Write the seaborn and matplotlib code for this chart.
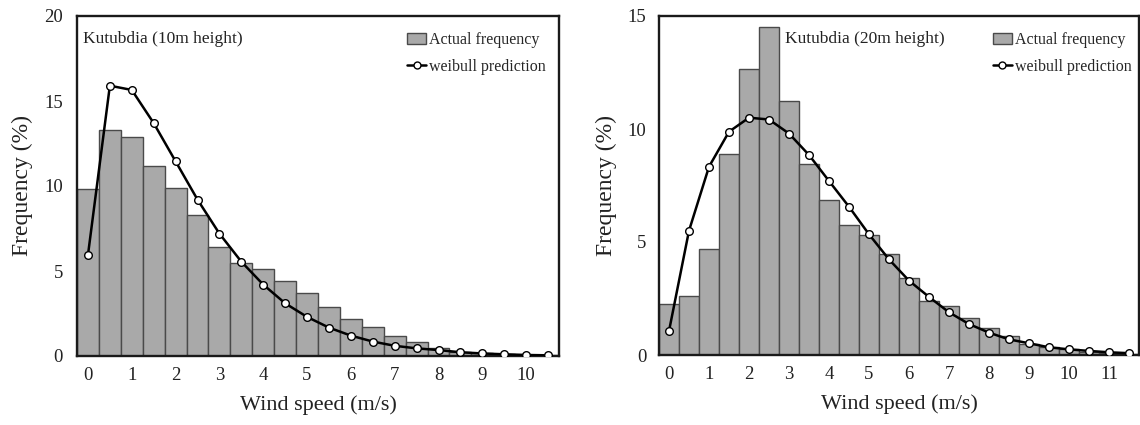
import numpy as np
import pandas as pd
import matplotlib
matplotlib.use("Agg")
import matplotlib.pyplot as plt
import seaborn as sns
from matplotlib.patches import Patch
from matplotlib.lines import Line2D

sns.set_theme(style="white")
plt.rcParams['font.family'] = ['Liberation Serif', 'DejaVu Serif']

# ---- data ----
speed_10m = [0, 0.5, 1, 1.5, 2, 2.5, 3, 3.5, 4, 4.5, 5, 5.5, 6, 6.5, 7, 7.5, 8, 8.5, 9, 9.5, 10, 10.5]
actual_10m = [9.8, 13.3, 12.9, 11.2, 9.9, 8.3, 6.4, 5.5, 5.1, 4.4, 3.7, 2.9, 2.2, 1.7, 1.2, 0.85,
              0.45, 0.25, 0.15, 0.1, 0.05, 0.03]
weibull_10m = [5.94, 15.9, 15.65, 13.7, 11.45, 9.2, 7.2, 5.55, 4.2, 3.1, 2.3, 1.67, 1.2, 0.85, 0.6,
               0.45, 0.35, 0.22, 0.15, 0.1, 0.06, 0.04]

speed_20m = [0, 0.5, 1, 1.5, 2, 2.5, 3, 3.5, 4, 4.5, 5, 5.5, 6, 6.5, 7, 7.5, 8, 8.5, 9, 9.5, 10, 10.5, 11, 11.5]
actual_20m = [2.25, 2.6, 4.7, 8.9, 12.65, 14.5, 11.25, 8.45, 6.85, 5.75, 5.3, 4.45, 3.42, 2.4, 2.15,
              1.62, 1.2, 0.85, 0.5, 0.35, 0.25, 0.15, 0.1, 0.05]
weibull_20m = [1.06, 5.5, 8.33, 9.88, 10.5, 10.42, 9.8, 8.85, 7.7, 6.56, 5.34, 4.23, 3.29, 2.57, 1.89,
               1.37, 0.99, 0.69, 0.52, 0.34, 0.25, 0.18, 0.12, 0.08]

panels = [
    dict(speed=speed_10m, actual=actual_10m, weibull=weibull_10m, title="Kutubdia (10m height)",
         ylim=20, yticks=[0, 5, 10, 15, 20], xmax=10.75, xticks=list(range(0, 11)),
         rect=[77 / 1140, 69 / 425, 482 / 1140, 340 / 425], title_x=0.013, ypad=10, leg_x=1.0),
    dict(speed=speed_20m, actual=actual_20m, weibull=weibull_20m, title="Kutubdia (20m height)",
         ylim=15, yticks=[0, 5, 10, 15], xmax=11.75, xticks=list(range(0, 12)),
         rect=[659 / 1140, 70 / 425, 480 / 1140, 339 / 425], title_x=0.262, ypad=9, leg_x=1.012),
]

fig = plt.figure(figsize=(11.4, 4.25), dpi=100)

bar_color = "#a9a9a9"
edge_color = "#4a4a4a"

for p in panels:
    ax = fig.add_axes(p["rect"])
    df = pd.DataFrame({"speed": p["speed"], "actual": p["actual"], "weibull": p["weibull"]})
    sns.barplot(data=df, x="speed", y="actual", native_scale=True, width=1.0,
                color=bar_color, edgecolor=edge_color, linewidth=1.0, saturation=1, ax=ax, zorder=1)
    sns.lineplot(data=df, x="speed", y="weibull", color="black", linewidth=1.8, marker="o",
                 markersize=5.5, markerfacecolor="white", markeredgecolor="black",
                 markeredgewidth=1.0, ax=ax, zorder=3)
    ax.set_xlim(-0.25, p["xmax"])
    ax.set_ylim(0, p["ylim"])
    ax.set_yticks(p["yticks"])
    ax.set_xticks(p["xticks"])
    ax.set_xticklabels([str(t) for t in p["xticks"]])
    edges = np.arange(0.25, p["xmax"], 0.5)
    ax.set_xticks(edges, minor=True)
    ax.tick_params(axis="x", which="major", length=0, labelsize=13.5, pad=8, colors="#222222")
    ax.tick_params(axis="x", which="minor", direction="in", length=5, width=1.8, color="#1a1a1a")
    ax.tick_params(axis="y", which="major", direction="out", length=0, labelsize=13.5,
                   pad=p["ypad"], colors="#222222")
    for s in ax.spines.values():
        s.set_visible(True)
        s.set_color("#1a1a1a")
        s.set_linewidth(1.7)
    ax.set_xlabel("Wind speed (m/s)", fontsize=16, labelpad=8, color="#222222")
    ax.set_ylabel("Frequency (%)", fontsize=17, labelpad=8, color="#222222")
    ax.text(p["title_x"], 0.955, p["title"], transform=ax.transAxes, fontsize=12.5,
            va="top", ha="left", color="#222222")
    handles = [Patch(facecolor=bar_color, edgecolor=edge_color, linewidth=1.0),
               Line2D([0], [0], color="black", linewidth=1.8, marker="o", markersize=5,
                      markerfacecolor="white", markeredgecolor="black")]
    ax.legend(handles, ["Actual frequency", "weibull prediction"], loc="upper right",
              frameon=False, fontsize=11.5, handlelength=1.2, handletextpad=0.2,
              labelspacing=0.65, borderaxespad=0.4, bbox_to_anchor=(p["leg_x"], 0.99))

fig.savefig("out.png", dpi=100)
